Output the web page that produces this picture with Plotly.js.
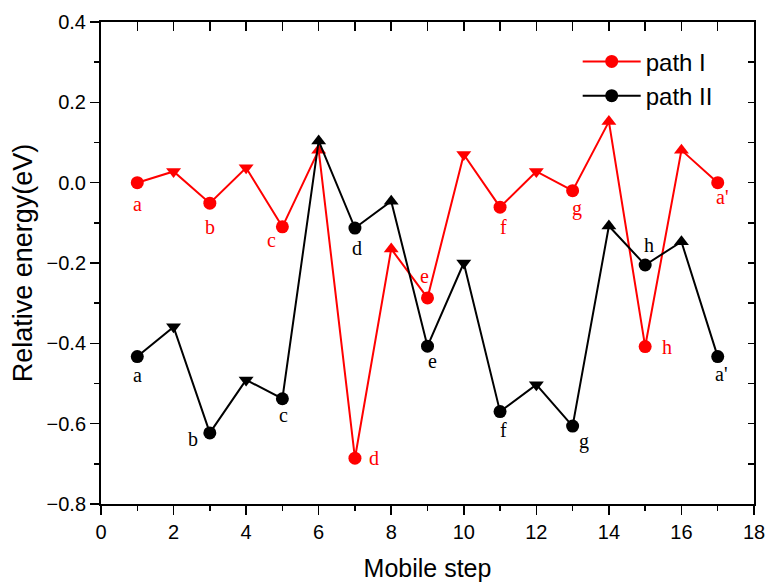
<!DOCTYPE html>
<html>
<head>
<meta charset="utf-8">
<script src="https://cdn.plot.ly/plotly-3.0.1.min.js"></script>
<style>html,body{margin:0;padding:0;background:#fff;}#chart{width:767px;height:582px;}</style>
</head>
<body>
<div id="chart"></div>
<script>
// ---- data ----
const steps = [1,2,3,4,5,6,7,8,9,10,11,12,13,14,15,16,17];
const pathI  = [0.0, 0.028, -0.051, 0.037, -0.11, 0.081, -0.686, -0.165, -0.287, 0.07, -0.061, 0.028, -0.02, 0.152, -0.408, 0.081, 0.0];
const pathII = [-0.433, -0.359, -0.623, -0.491, -0.538, 0.104, -0.113, -0.046, -0.407, -0.2, -0.57, -0.503, -0.606, -0.108, -0.205, -0.147, -0.433];
const labelsI  = ['a','','b','','c','','d','','e','','f','','g','','h','',"a'"];
const labelsII = ['a','','b','','c','','d','','e','','f','','g','','h','',"a'"];
const seriesNames = ['path I', 'path II'];

// ---- styles ----
const symbols = ['circle','triangle-down','circle','triangle-down','circle','triangle-up','circle','triangle-up',
                 'circle','triangle-down','circle','triangle-down','circle','triangle-up','circle','triangle-up','circle'];
// label offsets [dx, dy] in px (dy positive = up)
const offI = {0:[0,-21],2:[0,-24],4:[-11,-13],6:[19,0],8:[-3,22],10:[3,-20],12:[4,-18],14:[22,0],16:[4,-14]};
const offII = {0:[0,-18],2:[-17,-6],4:[1,-16],6:[2,-20],8:[5,-15],10:[3,-18],12:[11,-15],14:[4,20],16:[3,-17]};

function mkTrace(y, name, color) {
  return {
    x: steps, y: y, name: name, type: 'scatter', mode: 'lines+markers',
    line: {color: color, width: 2},
    marker: {color: color, size: 13, symbol: symbols},
    xaxis: 'x', yaxis: 'y', cliponaxis: false
  };
}
const traces = [
  mkTrace(pathI, seriesNames[0], '#ff0000'),
  mkTrace(pathII, seriesNames[1], '#000000'),
  {x: [], y: [], xaxis: 'x2', yaxis: 'y2', showlegend: false, hoverinfo: 'skip'}
];

const annotations = [];
function addLabels(labels, ys, offs, color) {
  labels.forEach((t, i) => {
    if (!t) return;
    const o = offs[i] || [0,0];
    annotations.push({x: steps[i], y: ys[i], xref: 'x', yref: 'y', text: t, showarrow: false,
      xshift: o[0], yshift: o[1],
      font: {family: 'Liberation Serif, Times New Roman, serif', size: 20, color: color}});
  });
}
addLabels(labelsI, pathI, offI, '#ff0000');
addLabels(labelsII, pathII, offII, '#000000');

const sans = 'Liberation Sans, Arial, sans-serif';
const axFont = {family: sans, size: 20, color: '#000'};
const layout = {
  width: 767, height: 582,
  margin: {l: 101, r: 13, t: 22, b: 78},
  paper_bgcolor: '#fff', plot_bgcolor: '#fff',
  font: axFont,
  showlegend: true,
  legend: {x: 0.73, y: 0.964, xanchor: 'left', yanchor: 'top', bgcolor: 'rgba(0,0,0,0)',
           font: {family: sans, size: 24, color: '#000'}, itemwidth: 58},
  xaxis: {range: [0, 18], dtick: 2, tick0: 0, ticks: 'outside', ticklen: 9, tickwidth: 1.5, tickcolor: '#000',
          showline: true, linewidth: 2, linecolor: '#000', mirror: true, showgrid: false, zeroline: false,
          minor: {dtick: 1, ticks: 'outside', ticklen: 5, tickwidth: 1.5, tickcolor: '#000', showgrid: false},
          tickfont: axFont,
          title: {text: 'Mobile step', font: {family: sans, size: 25, color: '#000'}, standoff: 19}},
  yaxis: {range: [-0.8, 0.4], dtick: 0.2, tick0: 0, ticks: 'outside', ticklen: 9, tickwidth: 1.5, tickcolor: '#000',
          tickformat: '.1f',
          showline: true, linewidth: 2, linecolor: '#000', mirror: true, showgrid: false, zeroline: false,
          minor: {dtick: 0.1, ticks: 'outside', ticklen: 5, tickwidth: 1.5, tickcolor: '#000', showgrid: false},
          tickfont: axFont,
          title: {text: 'Relative energy(eV)', font: {family: sans, size: 27, color: '#000'}, standoff: 6}},
  xaxis2: {overlaying: 'x', side: 'top', anchor: 'y', range: [0, 18], dtick: 1, tick0: 0, ticks: 'inside', ticklen: 9,
           tickwidth: 1.5, tickcolor: '#000', showticklabels: false, showgrid: false, zeroline: false, showline: false},
  yaxis2: {overlaying: 'y', side: 'right', anchor: 'x', range: [-0.8, 0.4], dtick: 0.1, tick0: 0, ticks: 'inside', ticklen: 6,
           tickwidth: 1.5, tickcolor: '#000', showticklabels: false, showgrid: false, zeroline: false, showline: false},
  annotations: annotations
};
Plotly.newPlot('chart', traces, layout, {displayModeBar: false, staticPlot: true});
</script>
</body>
</html>
